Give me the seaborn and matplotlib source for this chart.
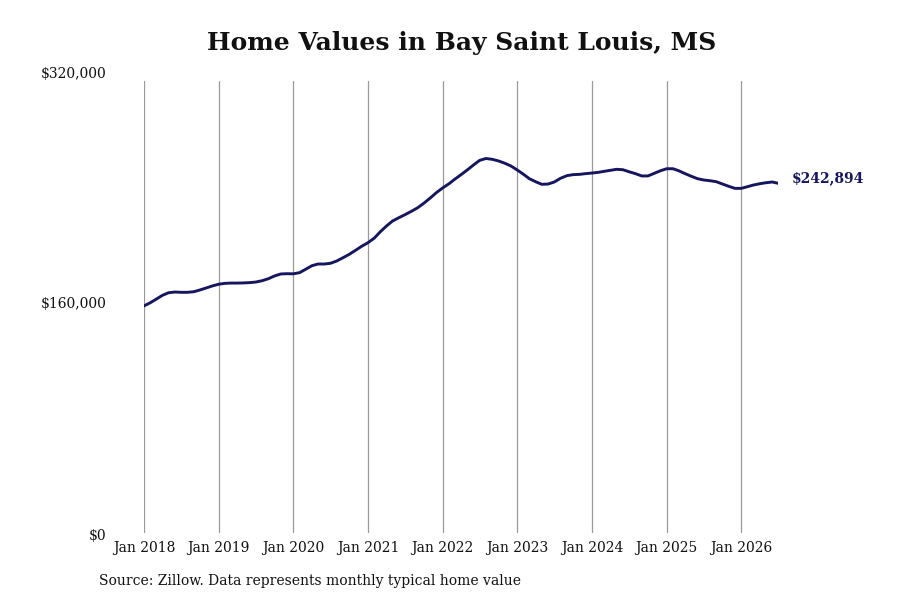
import matplotlib

matplotlib.use("Agg")
import matplotlib.dates as mdates
import matplotlib.pyplot as plt
import matplotlib.ticker as mticker
import pandas as pd
import seaborn as sns

TITLE = "Home Values in Bay Saint Louis, MS"
SOURCE = "Source: Zillow. Data represents monthly typical home value"
START_MONTH = "2018-01-01"

# typical home value, one entry per month from Jan 2018
home_values = [
    158000, 160200, 162600, 165300, 167100, 167600, 167400, 167400, 167800, 169000, 170400, 171800,
    173000, 173600, 173800, 173800, 173900, 174100, 174500, 175400, 176800, 178700, 180100, 180300,
    180200, 181000, 183300, 185800, 187000, 187000, 187500, 189100, 191400, 193700, 196500, 199300,
    201800, 205000, 209200, 213300, 216800, 219100, 221200, 223500, 226000, 229100, 232700, 236400,
    239700, 242600, 245700, 248900, 252100, 255600, 258800, 260100, 259500, 258400, 256800, 254900,
    252100, 249100, 246100, 244000, 242200, 242400, 243800, 246400, 248200, 248900, 249100, 249600,
    250000, 250500, 251200, 251900, 252600, 252300, 250900, 249600, 248000, 248000, 249800, 251600,
    253000, 253000, 251600, 249600, 247800, 246100, 245200, 244700, 244000, 242400, 240800, 239400,
    239400, 240600, 241700, 242600, 243300, 243800, 242894,
]

y_ticks = [0, 160000, 320000]
x_tick_years = list(range(2018, 2027))

LINE_COLOR = "#16165f"
GRID_COLOR = "#9a9a9a"


def main() -> None:
    sns.set_theme(style="white")
    plt.rcParams["font.family"] = ["DejaVu Serif"]

    dates = pd.date_range(START_MONTH, periods=len(home_values), freq="MS")
    df = pd.DataFrame({"date": dates, "value": home_values})

    fig = plt.figure(figsize=(9, 6), dpi=100, facecolor="white")
    ax = fig.add_axes([144 / 900, 66 / 600, (778.3 - 144) / 900, 462 / 600])
    ax.set_facecolor("white")

    tick_dates = [pd.Timestamp(f"{y}-01-01") for y in x_tick_years]
    for d in tick_dates:
        ax.axvline(d, ymin=0.004, ymax=0.98, color=GRID_COLOR, linewidth=0.9, zorder=0)

    sns.lineplot(data=df, x="date", y="value", ax=ax, color=LINE_COLOR, linewidth=2.1, zorder=3)

    ax.set_xlim(df["date"].iloc[0], df["date"].iloc[-1])
    ax.set_ylim(y_ticks[0], y_ticks[-1])

    ax.set_xticks(tick_dates)
    ax.xaxis.set_major_formatter(mdates.DateFormatter("%b %Y"))
    ax.set_yticks(y_ticks)
    ax.yaxis.set_major_formatter(mticker.FuncFormatter(lambda v, _: f"${v:,.0f}"))
    ax.tick_params(axis="x", length=0, pad=5, labelsize=10, colors="#111111")
    ax.tick_params(axis="y", length=0, pad=27, labelsize=10, colors="#111111")

    for side in ["top", "right", "bottom", "left"]:
        ax.spines[side].set_visible(False)

    ax.set_xlabel("")
    ax.set_ylabel("")
    ax.set_title(TITLE, fontsize=18, fontweight="bold", pad=16, color="#111111")

    last_value = home_values[-1]
    ax.annotate(
        f"${last_value:,}",
        xy=(df["date"].iloc[-1], last_value),
        xytext=(10, 4),
        textcoords="offset points",
        va="center",
        ha="left",
        fontsize=10,
        fontweight="bold",
        color=LINE_COLOR,
        annotation_clip=False,
    )

    fig.text(99 / 900, 1 - 581 / 600, SOURCE, ha="left", va="center", fontsize=10, color="#111111")

    fig.savefig("out.png", dpi=100, facecolor="white")
    plt.close(fig)


if __name__ == "__main__":
    main()
